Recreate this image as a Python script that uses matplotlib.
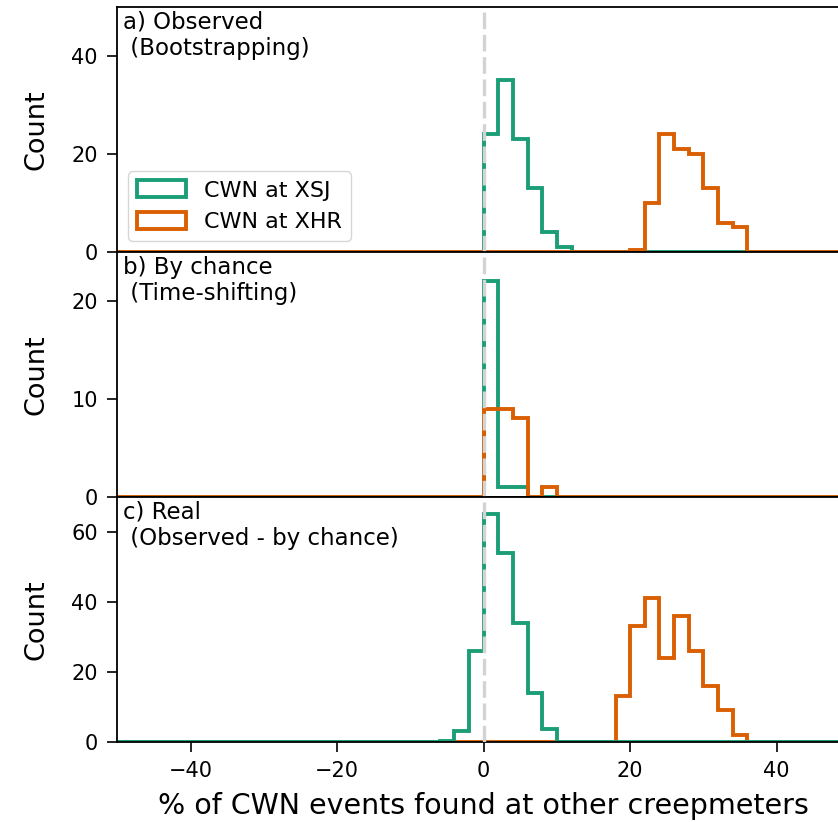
import numpy as np
import matplotlib
matplotlib.use("Agg")
import matplotlib.pyplot as plt

# Histogram bins shared by every panel (% of CWN events)
bin_edges = np.arange(-50, 52, 2)

# Non-empty bins: left edge of first bin and the counts that follow
obs_xsj_start, obs_xsj = 0, [24, 35, 23, 13, 4, 1]
obs_xhr_start, obs_xhr = 20, [0.4, 10, 24, 21, 20, 13, 6, 5]
chance_xsj_start, chance_xsj = 0, [22, 1, 1]
chance_xhr_start, chance_xhr = 0, [9, 9, 8, 0, 1]
real_xsj_start, real_xsj = -6, [0.3, 3, 26, 65, 54, 34, 14, 3.5]
real_xhr_start, real_xhr = 18, [13, 33, 41, 24, 36, 26, 16, 9, 2]

panel_titles = ["a) Observed\n (Bootstrapping)",
                "b) By chance\n (Time-shifting)",
                "c) Real\n (Observed - by chance)"]
panel_ymax = [50, 25, 70]
panel_yticks = [[0, 20, 40], [0, 10, 20], [0, 20, 40, 60]]
xticks = [-40, -20, 0, 20, 40]
labels = ["CWN at XSJ", "CWN at XHR"]
colors = ["#1b9e77", "#d95f02"]


def full_counts(start, counts):
    out = np.zeros(len(bin_edges) - 1)
    i0 = int((start - bin_edges[0]) // 2)
    out[i0:i0 + len(counts)] = counts
    return out


panels = [
    [(obs_xsj_start, obs_xsj), (obs_xhr_start, obs_xhr)],
    [(chance_xsj_start, chance_xsj), (chance_xhr_start, chance_xhr)],
    [(real_xsj_start, real_xsj), (real_xhr_start, real_xhr)],
]
# green goes on top in the last panel
draw_order = [[0, 1], [0, 1], [1, 0]]

fig = plt.figure(figsize=(8.38, 8.22), dpi=100)
gs = fig.add_gridspec(3, 1, left=0.14, right=1.0143, top=0.9915,
                      bottom=0.0977, hspace=0)
axes = [fig.add_subplot(gs[i]) for i in range(3)]
centers = bin_edges[:-1] + 1

for k, ax in enumerate(axes):
    for j in draw_order[k]:
        start, counts = panels[k][j]
        ax.hist(centers, bins=bin_edges, weights=full_counts(start, counts),
                histtype="step", color=colors[j], linewidth=2.8,
                label=labels[j], zorder=2)
    ax.axvline(0, color="#d3d3d3", linestyle=(0, (5, 1.7)), linewidth=2.4,
               zorder=3)
    ax.set_xlim(-50, 50)
    ax.set_ylim(0, panel_ymax[k])
    ax.set_yticks(panel_yticks[k])
    ax.set_ylabel("Count", fontsize=19.5)
    ax.yaxis.set_label_coords(-0.092, 0.5)
    ax.tick_params(labelsize=15, length=7, pad=7, width=1.2)
    for s in ax.spines.values():
        s.set_linewidth(1.3)
    ax.text(0.008, 0.985, panel_titles[k], transform=ax.transAxes,
            ha="left", va="top", fontsize=16.5)
    if k < 2:
        ax.tick_params(axis="x", bottom=False, labelbottom=False)
    else:
        ax.set_xticks(xticks)

handles, labs = axes[0].get_legend_handles_labels()
order = [labs.index(l) for l in labels]
axes[0].legend([handles[i] for i in order], [labs[i] for i in order],
               loc="lower left", fontsize=16, handleheight=0.8,
               handlelength=2.2)
axes[2].set_xlabel("% of CWN events found at other creepmeters",
                   fontsize=20.5, labelpad=8)

fig.savefig("out.png", dpi=100)
